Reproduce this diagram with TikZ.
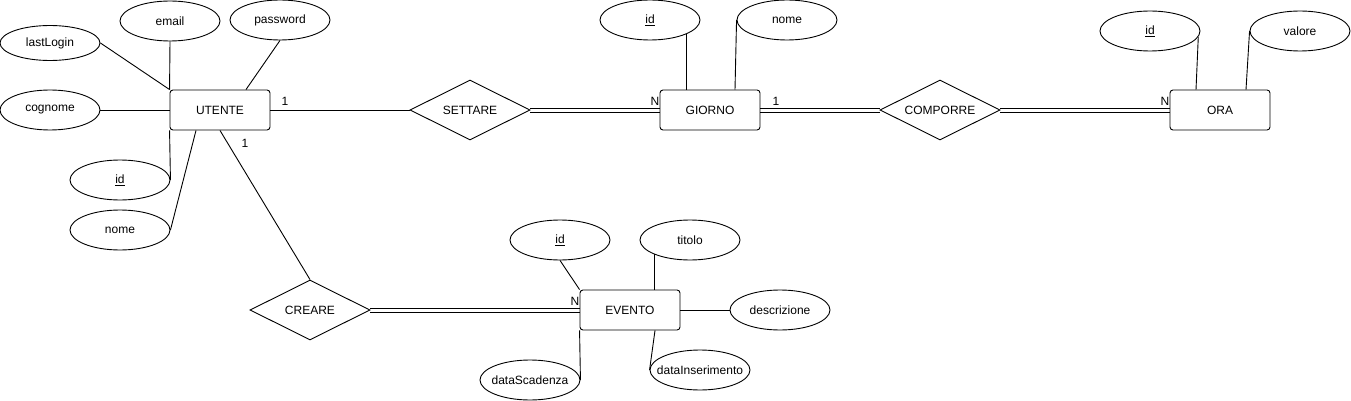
\documentclass[tikz,border=0pt]{standalone}
\usepackage{fontspec}
\setmainfont{Liberation Sans}
\usetikzlibrary{shapes.geometric,calc}
\newcommand{\atxt}[1]{\makebox[0pt][c]{#1}}
\begin{document}
\begin{tikzpicture}[x=1pt,y=-1pt,
  every node/.style={font=\fontsize{12}{14}\selectfont},
  ent/.style={draw, rounded corners=3pt, minimum width=100pt, minimum height=40pt, line width=0.9pt, inner sep=0pt},
  attr/.style={draw, ellipse, minimum width=100pt, minimum height=40pt, inner sep=0pt, line width=0.9pt},
  rel/.style={draw, diamond, minimum width=120pt, minimum height=60pt, inner sep=0pt, aspect=2, line width=0.9pt},
  conn/.style={line width=0.9pt},
  card/.style={inner sep=0pt}]
\useasboundingbox[fill=white] (0,0) rectangle (1351,401);

% entities
\node[ent] (utente) at (220,110) {UTENTE};
\node[ent] (giorno) at (710,110) {GIORNO};
\node[ent] (ora) at (1220,110) {ORA};
\node[ent] (evento) at (630,310) {EVENTO};

% relationships
\node[rel] (settare) at (470,110) {SETTARE};
\node[rel] (comporre) at (940,110) {COMPORRE};
\node[rel] (creare) at (310,310) {CREARE};

% UTENTE attributes
\node[attr, minimum height=35pt] (ulast) at (50,43) {\atxt{lastLogin}};
\node[attr] (uemail) at (170,21) {\atxt{email}};
\node[attr] (upass) at (280,20) {\atxt{password}};
\node[attr] (ucog) at (50,110) {\atxt{cognome}};
\node[attr] (uid) at (120,180) {\atxt{\underline{id}}};
\node[attr] (unome) at (120,230) {\atxt{nome}};

% GIORNO attributes
\node[attr] (gid) at (650,20) {\atxt{\underline{id}}};
\node[attr] (gnome) at (787,20) {\atxt{nome}};

% ORA attributes
\node[attr] (oid) at (1150,31) {\atxt{\underline{id}}};
\node[attr] (oval) at (1300,31) {\atxt{valore}};

% EVENTO attributes
\node[attr] (eid) at (560,240) {\atxt{\underline{id}}};
\node[attr] (etit) at (690,240) {\atxt{titolo}};
\node[attr] (edesc) at (780,310) {\atxt{descrizione}};
\node[attr] (eins) at (700,370) {\atxt{dataInserimento}};
\node[attr] (esca) at (530,380) {\atxt{dataScadenza}};

% attribute connectors
\draw[conn] (ulast.east) -- (utente.north west);
\draw[conn] (uemail.south) -- (utente.north west);
\draw[conn] (upass.south) -- ($(utente.north)+(26,0)$);
\draw[conn] (ucog.east) -- (utente.west);
\draw[conn] (uid.east) -- (utente.south west);
\draw[conn] (unome.east) -- ($(utente.south)+(-24,0)$);

\draw[conn] (gid.-21) -- (gid.-21 |- giorno.north);
\draw[conn] (gnome.west) -- ($(giorno.north)+(25,0)$);

\draw[conn] (oid.-7) -- ($(ora.north)+(-24,0)$);
\draw[conn] (oval.west) -- ($(ora.north)+(26,0)$);

\draw[conn] (eid.south) -- (evento.north west);
\draw[conn] (etit.202) -- (etit.202 |- evento.north);
\draw[conn] (edesc.west) -- (evento.east);
\draw[conn] ($(evento.south)+(25,0)$) -- (eins.west);
\draw[conn] (evento.south west) -- (esca.east);

% relationship connectors
\draw[conn] (utente.east) -- (settare.west);
\draw[conn] ([yshift=2pt]settare.east) -- ([yshift=2pt]giorno.west);
\draw[conn] ([yshift=-2pt]settare.east) -- ([yshift=-2pt]giorno.west);
\draw[conn] ([yshift=2pt]giorno.east) -- ([yshift=2pt]comporre.west);
\draw[conn] ([yshift=-2pt]giorno.east) -- ([yshift=-2pt]comporre.west);
\draw[conn] ([yshift=2pt]comporre.east) -- ([yshift=2pt]ora.west);
\draw[conn] ([yshift=-2pt]comporre.east) -- ([yshift=-2pt]ora.west);
\draw[conn] (utente.south) -- (creare.north);
\draw[conn] ([yshift=2pt]creare.east) -- ([yshift=2pt]evento.west);
\draw[conn] ([yshift=-2pt]creare.east) -- ([yshift=-2pt]evento.west);

% cardinalities
\node[card] (c1) at (285,101) {1};
\node[card] (c2) at (655,101) {N};
\node[card] (c3) at (776,101) {1};
\node[card] (c4) at (1165,101) {N};
\node[card] (c5) at (245,143) {1};
\node[card] (c6) at (575,301) {N};
\end{tikzpicture}
\end{document}
